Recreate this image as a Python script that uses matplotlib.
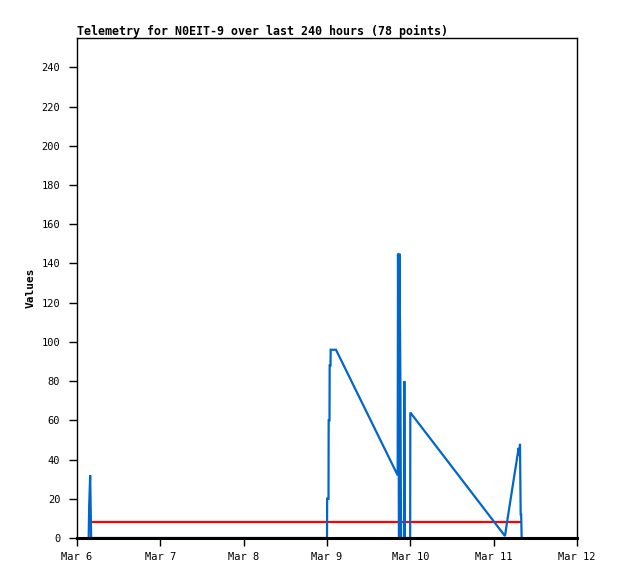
import numpy as np
import matplotlib
matplotlib.use('Agg')
import matplotlib.pyplot as plt

# time in days since Mar 6 00:00
t_blue = [0.140, 0.146, 0.158, 0.170, 3.000, 3.002, 3.018, 3.020, 3.030, 3.032, 3.042, 3.044, 3.108,
          3.848, 3.852, 3.864, 3.870, 3.882, 3.888, 3.924, 3.928, 3.934, 3.998,
          4.000, 5.136, 5.160, 5.300, 5.310, 5.316, 5.324, 5.330, 5.336]
v_blue = [0, 16, 32, 0, 0, 20, 20, 60, 60, 88, 88, 96, 96,
          32, 145, 0, 145, 72, 0, 0, 80, 0, 0,
          64, 1, 8, 46, 42, 48, 12, 12, 0]

t_red = [0.130, 5.330]
v_red = [8, 8]

day_ticks = [0, 1, 2, 3, 4, 5, 6]
day_labels = ['Mar 6', 'Mar 7', 'Mar 8', 'Mar 9', 'Mar 10', 'Mar 11', 'Mar 12']
y_ticks = list(range(0, 241, 20))

W, H = 618, 579
fig = plt.figure(figsize=(W / 100, H / 100), dpi=100)
ax = fig.add_axes([77 / W, (H - 538) / H, 500 / W, 500 / H])

ax.plot(t_red, v_red, color='#ff0000', lw=1.6, solid_capstyle='butt')
ax.plot(t_blue, v_blue, color='#0066cc', lw=1.6, solid_joinstyle='miter')

ax.set_xlim(0, 6)
ax.set_ylim(0, 255)
ax.set_xticks(day_ticks)
ax.set_xticklabels(day_labels)
ax.set_yticks(y_ticks)

font = 'DejaVu Sans Mono'
for lab in ax.get_xticklabels() + ax.get_yticklabels():
    lab.set_family(font)
    lab.set_fontsize(7.5)

ax.tick_params(direction='out', length=6, width=1, color='black', pad=6)
ax.tick_params(axis='x', pad=4)
for s in ax.spines.values():
    s.set_linewidth(1)
ax.spines['bottom'].set_linewidth(2.2)

ax.set_ylabel('Values', family=font, fontsize=8, fontweight='bold', labelpad=4)
fig.text(77 / W, (H - 31) / H, 'Telemetry for N0EIT-9 over last 240 hours (78 points)',
         family=font, fontsize=8.4, fontweight='bold', ha='left', va='center')

fig.savefig('out.png', dpi=100)
